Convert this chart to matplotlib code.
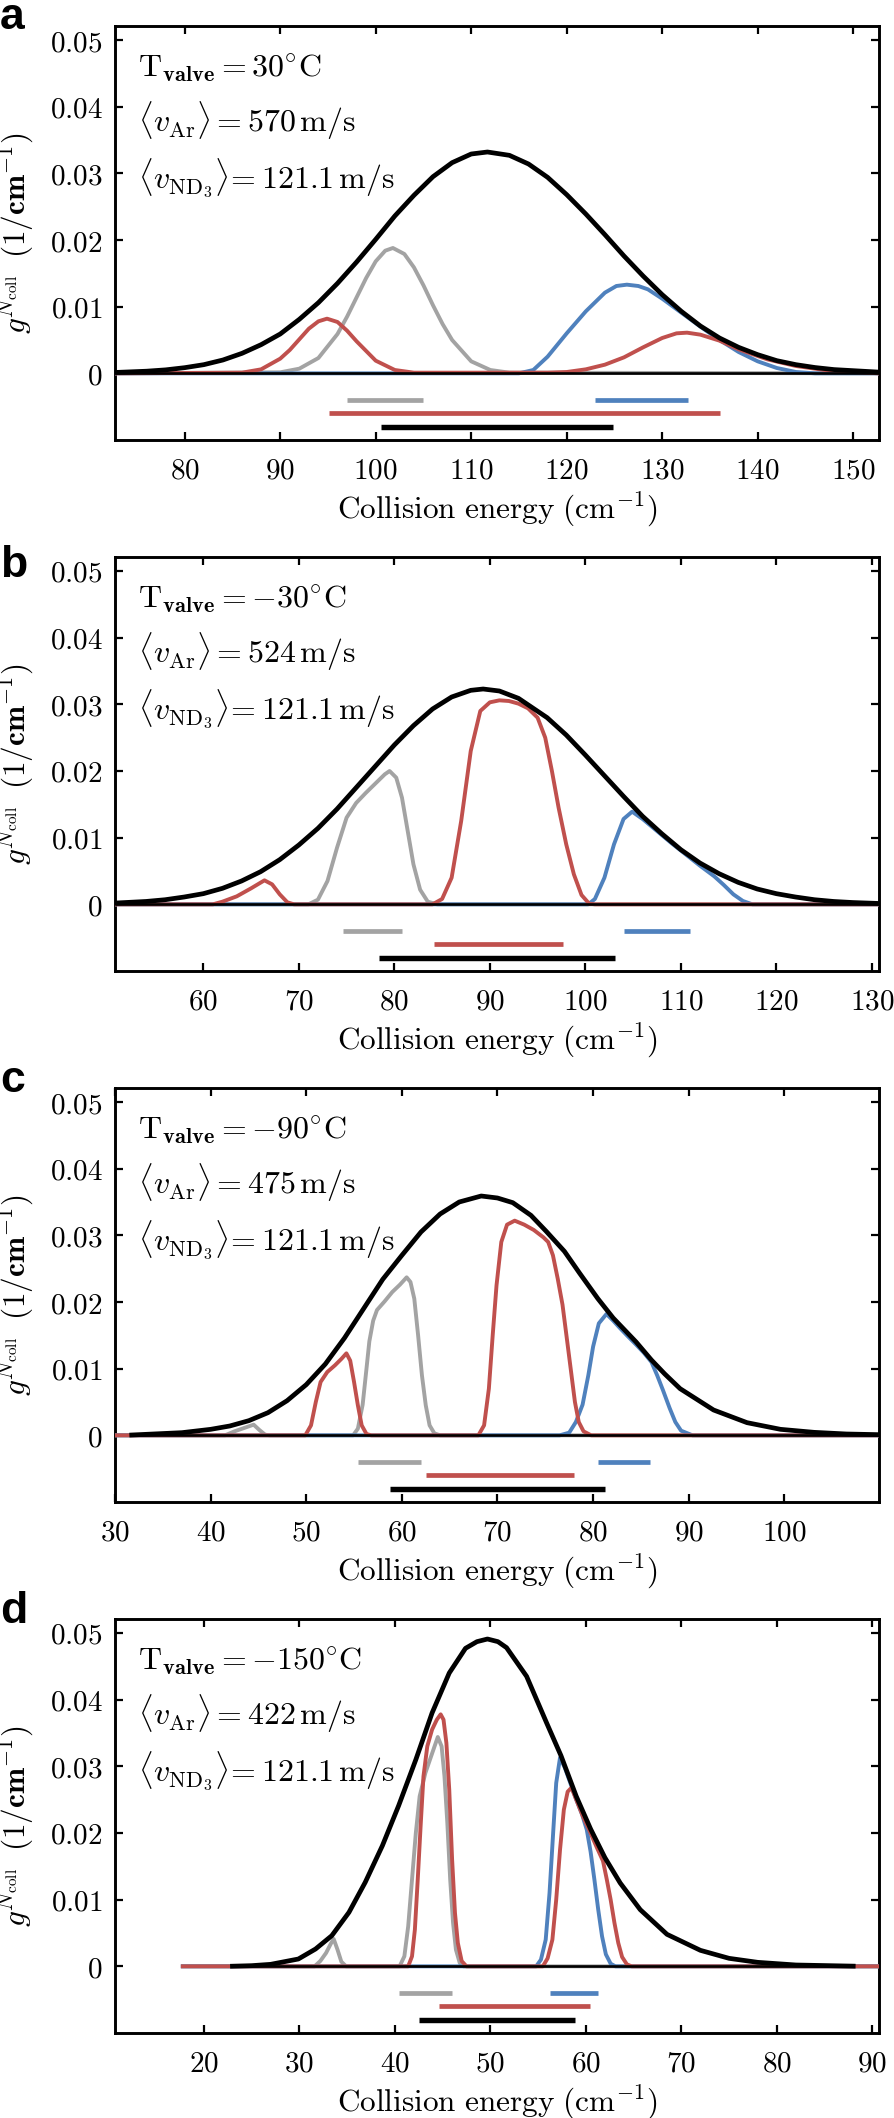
"""Collision-energy distributions g^Ncoll for four valve temperatures (panels a-d)."""

import matplotlib
matplotlib.use("Agg")
import matplotlib.pyplot as plt
from matplotlib.ticker import FixedLocator, FuncFormatter

# ---- panel settings --------------------------------------------------------
LETTERS = ["a", "b", "c", "d"]
T_VALVE = [30, -30, -90, -150]
V_AR = [570, 524, 475, 422]
V_ND3 = 121.1
XLIMS = [(72.7, 152.7), (50.75, 130.75), (30.0, 109.9), (10.7, 90.7)]
XTICKS = [
    [80, 90, 100, 110, 120, 130, 140, 150],
    [60, 70, 80, 90, 100, 110, 120, 130],
    [30, 40, 50, 60, 70, 80, 90, 100],
    [20, 30, 40, 50, 60, 70, 80, 90],
]
YTICKS = [0, 0.01, 0.02, 0.03, 0.04, 0.05]

# ---- panel a (30 C) ---------------------------------------------------------
a_black_e = [72.7, 76, 78, 80, 82, 84, 86, 88, 90, 92, 94, 96, 98, 100, 102, 104, 106,
             108, 110, 111.7, 114, 116, 118, 120, 122, 124, 126, 128, 130, 132, 134,
             136, 138, 140, 142, 144, 146, 148, 152.7]
a_black_g = [0.00013, 0.00032, 0.00052, 0.00085, 0.0013, 0.0020, 0.0030, 0.0043, 0.0059,
             0.0081, 0.0106, 0.0135, 0.0167, 0.0201, 0.0236, 0.0267, 0.0295, 0.0316,
             0.0329, 0.0332, 0.0327, 0.0314, 0.0294, 0.0268, 0.0239, 0.0208, 0.0176,
             0.0146, 0.0118, 0.0093, 0.0071, 0.0053, 0.0039, 0.0028, 0.0019, 0.0013,
             0.00087, 0.00056, 0.00018]
a_gray_e = [72.7, 90, 92, 94, 96, 97, 98, 99, 100, 101, 101.8, 103, 104, 105, 106, 107,
            108, 110, 112, 114, 152.7]
a_gray_g = [0, 0.00015, 0.0007, 0.0023, 0.0059, 0.0085, 0.0114, 0.0143, 0.0168, 0.0184,
            0.0188, 0.0179, 0.0159, 0.0132, 0.0102, 0.0074, 0.0050, 0.0018, 0.0005,
            0.0001, 0]
a_red_e = [72.7, 86, 88, 90, 91, 92, 93, 94, 94.9, 96, 97, 98, 100, 102, 104,
           118, 120, 122, 124, 126, 128, 130, 131.5, 132.6, 134, 136, 138, 141, 144,
           147, 150, 152.7]
a_red_g = [0, 0.0001, 0.0006, 0.0022, 0.0035, 0.0051, 0.0067, 0.0078, 0.0082, 0.0077,
           0.0064, 0.0048, 0.0019, 0.0005, 0.0001,
           0.0001, 0.0002, 0.0006, 0.0013, 0.0024, 0.0039, 0.0053, 0.0060, 0.0061,
           0.0058, 0.0049, 0.0036, 0.0021, 0.0011, 0.0005, 0.0002, 0]
a_blue_e = [72.7, 115, 116.5, 118, 120, 122, 124, 125.2, 126.3, 127.5, 128.5, 130, 132,
            134, 136, 138, 140, 142, 144, 146, 152.7]
a_blue_g = [0, 0, 0.0005, 0.0025, 0.0060, 0.0093, 0.0121, 0.0131, 0.0133, 0.0131, 0.0126,
            0.0112, 0.0091, 0.0070, 0.0050, 0.0032, 0.0018, 0.0008, 0.0002, 0, 0]
# energy-range bars: gray, blue, red, black
a_bar_lo = [97.0, 123.0, 95.1, 100.6]
a_bar_hi = [104.9, 132.7, 136.0, 124.8]

# ---- panel b (-30 C) --------------------------------------------------------
b_black_e = [50.75, 54, 56, 58, 60, 62, 64, 66, 68, 70, 72, 74, 76, 78, 80, 82, 84, 86,
             88, 89.3, 91, 93, 96, 98, 100, 102, 104, 106, 108, 110, 112, 114, 116, 118,
             120, 122, 124, 126, 128, 130.75]
b_black_g = [0.00019, 0.00043, 0.00069, 0.0011, 0.0016, 0.0024, 0.0035, 0.0049, 0.0067,
             0.0089, 0.0114, 0.0143, 0.0175, 0.0207, 0.0239, 0.0268, 0.0293, 0.0311,
             0.0321, 0.0323, 0.0320, 0.0309, 0.0280, 0.0254, 0.0224, 0.0193, 0.0162,
             0.0132, 0.0106, 0.0082, 0.0062, 0.0046, 0.0033, 0.0023, 0.0016, 0.0011,
             0.00069, 0.00043, 0.00027, 0.00013]
b_gray_e = [50.75, 71.0, 72.0, 73.0, 74.0, 75.0, 76.0, 77.0, 78.0, 79.0, 79.5, 80.2,
            80.8, 81.4, 82.0, 82.7, 83.5, 84.5, 130.75]
b_gray_g = [0, 0, 0.0007, 0.0035, 0.0085, 0.0130, 0.0152, 0.0167, 0.0181, 0.0195, 0.0200,
            0.0190, 0.0160, 0.0110, 0.0060, 0.0022, 0.0004, 0, 0]
b_red_e = [50.75, 61.0, 62.0, 63.5, 65.0, 66.4, 67.2, 68.0, 68.8, 69.5,
           84.0, 85.0, 86.0, 87.0, 88.0, 89.0, 90.0, 91.0, 92.0, 93.0, 94.0, 95.0, 95.8,
           96.5, 97.2, 98.0, 98.8, 99.6, 100.4, 101.0, 130.75]
b_red_g = [0, 0, 0.0004, 0.0012, 0.0024, 0.0036, 0.0030, 0.0015, 0.0003, 0,
           0, 0.0008, 0.0040, 0.0125, 0.0230, 0.0290, 0.0303, 0.0306, 0.0305, 0.0301,
           0.0294, 0.0280, 0.0250, 0.0200, 0.0145, 0.0090, 0.0045, 0.0014, 0.0001, 0, 0]
b_blue_e = [50.75, 100.3, 101.0, 102.0, 103.0, 104.0, 104.9, 106.0, 107.5, 109.0, 110.5,
            112.0, 113.5, 114.5, 115.5, 116.5, 117.5, 130.75]
b_blue_g = [0, 0, 0.0008, 0.0040, 0.0090, 0.0128, 0.0139, 0.0128, 0.0110, 0.0092, 0.0075,
            0.0058, 0.0042, 0.0029, 0.0015, 0.0005, 0, 0]
b_bar_lo = [74.6, 104.0, 84.2, 78.4]
b_bar_hi = [80.8, 111.0, 97.7, 103.1]

# ---- panel c (-90 C) --------------------------------------------------------
c_black_e = [31.75, 34, 37, 40, 42, 44, 46, 48, 50, 52, 54, 56, 58, 60, 62, 64, 66,
             68.3, 70, 71.6, 73.5, 75.1, 77, 78.6, 80.5, 82.1, 84.5, 86.1, 87.5, 89.1,
             92.6, 96.1, 99.6, 103.1, 106.5, 109.9]
c_black_g = [0.00005, 0.0002, 0.0004, 0.0009, 0.0014, 0.0022, 0.0034, 0.0052, 0.0076,
             0.0107, 0.0146, 0.0190, 0.0234, 0.0270, 0.0305, 0.0332, 0.0350, 0.0359,
             0.0356, 0.0349, 0.0330, 0.0306, 0.0276, 0.0243, 0.0205, 0.0176, 0.0140,
             0.0113, 0.0092, 0.0070, 0.0038, 0.0019, 0.0009, 0.00045, 0.0002, 0.0001]
c_gray_e = [30.0, 41.5, 42.5, 43.5, 44.5, 45.1, 45.7, 46.2,
            54.9, 55.4, 55.9, 56.3, 56.6, 57.0, 57.4, 58.2, 59.0, 59.8, 60.5, 60.9, 61.3,
            61.7, 62.1, 62.5, 62.9, 63.4, 64.0, 109.9]
c_gray_g = [0, 0, 0.0006, 0.0011, 0.0016, 0.0008, 0.0001, 0,
            0, 0.0010, 0.0046, 0.0100, 0.0141, 0.0172, 0.0188, 0.0201, 0.0215, 0.0226,
            0.0237, 0.0230, 0.0205, 0.0150, 0.0090, 0.0045, 0.0015, 0.0003, 0, 0]
c_red_e = [30.0, 49.9, 50.5, 51.0, 51.5, 52.2, 53.0, 53.7, 54.2, 54.6, 55.0, 55.4, 55.8,
           56.3, 56.8, 68.0, 68.6, 69.1, 69.5, 69.9, 70.4, 71.0, 71.8, 72.8, 73.8, 74.8,
           75.3, 75.8, 76.3, 76.8, 77.3, 77.7, 78.1, 78.5, 79.0, 79.8, 109.9]
c_red_g = [0, 0, 0.0015, 0.0050, 0.0080, 0.0095, 0.0105, 0.0115, 0.0123, 0.0112, 0.0080,
           0.0045, 0.0015, 0.0002, 0, 0, 0.0015, 0.0070, 0.0150, 0.0225, 0.0290, 0.0316,
           0.0322, 0.0316, 0.0308, 0.0297, 0.0290, 0.0270, 0.0235, 0.0196, 0.0140,
           0.0095, 0.0050, 0.0020, 0.0006, 0, 0]
c_blue_e = [30.0, 76.5, 77.5, 78.2, 78.9, 79.5, 80.0, 80.6, 81.4, 82.1, 82.8, 83.6, 84.5,
            85.3, 86.1, 86.7, 87.3, 88.0, 88.6, 89.2, 90.4, 109.9]
c_blue_g = [0, 0, 0.0004, 0.0020, 0.0046, 0.0090, 0.0133, 0.0168, 0.0182, 0.0172, 0.0161,
            0.0149, 0.0136, 0.0124, 0.0110, 0.0090, 0.0068, 0.0041, 0.0020, 0.0007, 0, 0]
c_bar_lo = [55.4, 80.5, 62.5, 58.8]
c_bar_hi = [62.0, 86.0, 78.0, 81.2]

# ---- panel d (-150 C) -------------------------------------------------------
d_black_e = [23.0, 25, 27, 29.9, 31.7, 33.4, 35.2, 36.9, 38.7, 40.4, 42.2, 43.9, 45.7,
             47.4, 48.6, 49.7, 50.8, 51.7, 53.8, 55.9, 57.4, 59.0, 60.5, 62.0, 63.6,
             65.7, 68.5, 72.0, 75.0, 78.0, 82.0, 88.0]
d_black_g = [0.00002, 0.0001, 0.0003, 0.0011, 0.0026, 0.0046, 0.0081, 0.0126, 0.0181,
             0.0241, 0.0310, 0.0380, 0.0440, 0.0477, 0.0487, 0.0491, 0.0487, 0.0478,
             0.0435, 0.0365, 0.0316, 0.0255, 0.0206, 0.0163, 0.0125, 0.0085, 0.0048,
             0.0024, 0.0012, 0.0006, 0.0002, 0.00003]
d_gray_e = [17.8, 31.6, 32.2, 32.8, 33.3, 33.6, 34.0, 34.4, 34.9,
            40.5, 41.0, 41.4, 41.8, 42.2, 42.6, 43.2, 43.8, 44.5, 44.9, 45.2, 45.5, 45.8,
            46.1, 46.4, 46.8, 47.2, 90.7]
d_gray_g = [0, 0, 0.0008, 0.0020, 0.0034, 0.0041, 0.0025, 0.0007, 0,
            0, 0.0015, 0.0060, 0.0130, 0.0200, 0.0255, 0.0290, 0.0315, 0.0344, 0.0330,
            0.0285, 0.0215, 0.0130, 0.0065, 0.0025, 0.0005, 0, 0]
d_red_e = [17.8, 41.4, 41.8, 42.1, 42.4, 42.7, 43.0, 43.4, 43.9, 44.4, 44.8, 45.1, 45.4,
           45.7, 46.0, 46.3, 46.6, 47.0, 47.5, 55.5, 56.0, 56.5, 56.9, 57.3, 57.7, 58.1,
           58.5, 59.0, 59.7, 60.4, 61.1, 61.8, 62.2, 62.6, 63.0, 63.4, 63.8, 64.3, 64.8,
           90.7]
d_red_g = [0, 0, 0.0015, 0.0055, 0.0130, 0.0210, 0.0285, 0.0330, 0.0355, 0.0370, 0.0378,
           0.0370, 0.0335, 0.0265, 0.0160, 0.0080, 0.0035, 0.0008, 0, 0, 0.0012, 0.0040,
           0.0100, 0.0175, 0.0235, 0.0262, 0.0268, 0.0250, 0.0225, 0.0203, 0.0180,
           0.0158, 0.0130, 0.0100, 0.0065, 0.0035, 0.0014, 0.0003, 0, 0]
d_blue_e = [17.8, 54.8, 55.3, 55.8, 56.2, 56.6, 56.9, 57.3, 57.8, 58.4, 59.0, 59.6, 60.1,
            60.5, 60.9, 61.3, 61.7, 62.1, 62.6, 63.1, 90.7]
d_blue_g = [0, 0, 0.0010, 0.0040, 0.0110, 0.0205, 0.0275, 0.0313, 0.0298, 0.0274, 0.0250,
            0.0228, 0.0205, 0.0172, 0.0130, 0.0085, 0.0045, 0.0018, 0.0004, 0, 0]
d_bar_lo = [40.4, 56.2, 44.6, 42.5]
d_bar_hi = [46.0, 61.3, 60.4, 58.9]

# bar heights below the axis, same order as the bar lists
BAR_LEVEL = [-0.004, -0.004, -0.006, -0.008]

GRAY = "#a3a3a3"
RED = "#c0504d"
BLUE = "#4f81bd"
BAR_COLORS = [GRAY, BLUE, RED, "black"]

PANELS = [
    dict(black=(a_black_e, a_black_g), gray=(a_gray_e, a_gray_g),
         red=(a_red_e, a_red_g), blue=(a_blue_e, a_blue_g), bars=(a_bar_lo, a_bar_hi)),
    dict(black=(b_black_e, b_black_g), gray=(b_gray_e, b_gray_g),
         red=(b_red_e, b_red_g), blue=(b_blue_e, b_blue_g), bars=(b_bar_lo, b_bar_hi)),
    dict(black=(c_black_e, c_black_g), gray=(c_gray_e, c_gray_g),
         red=(c_red_e, c_red_g), blue=(c_blue_e, c_blue_g), bars=(c_bar_lo, c_bar_hi)),
    dict(black=(d_black_e, d_black_g), gray=(d_gray_e, d_gray_g),
         red=(d_red_e, d_red_g), blue=(d_blue_e, d_blue_g), bars=(d_bar_lo, d_bar_hi)),
]

plt.rcParams["mathtext.fontset"] = "cm"
plt.rcParams["axes.linewidth"] = 2.1

W, H = 894.0, 2118.0
AX_LEFT, AX_W, AX_H = 115, 764, 414
AX_TOPS = [26, 557, 1088, 1619]
LETTER_BASE = [29, 577, 1092, 1623]


def _ylab(v, _):
    return r"$0$" if abs(v) < 1e-9 else rf"${v:.2f}$"


def _xlab(v, _):
    return rf"${v:.0f}$"


def main():
    fig = plt.figure(figsize=(W / 100, H / 100), dpi=100)

    for i, p in enumerate(PANELS):
        top = AX_TOPS[i]
        ax = fig.add_axes([AX_LEFT / W, 1 - (top + AX_H) / H, AX_W / W, AX_H / H])

        for key, col in (("gray", GRAY), ("blue", BLUE), ("red", RED)):
            e, g = p[key]
            ax.plot(e, g, color=col, lw=2.8, zorder=3)
        be, bg = p["black"]
        # zero line under the black envelope
        ax.hlines(0, be[0], be[-1], color="black", lw=1.9, zorder=3.5)
        ax.plot(be, bg, color="black", lw=3.4, zorder=4)

        lo, hi = p["bars"]
        for j in range(len(lo)):
            ax.hlines(BAR_LEVEL[j], lo[j], hi[j], color=BAR_COLORS[j],
                      lw=3.9 if j == 3 else 3.4, zorder=3, capstyle="butt")

        ax.set_xlim(*XLIMS[i])
        ax.set_ylim(-0.01, 0.0521)
        ax.xaxis.set_major_locator(FixedLocator(XTICKS[i]))
        ax.yaxis.set_major_locator(FixedLocator(YTICKS))
        ax.xaxis.set_major_formatter(FuncFormatter(_xlab))
        ax.yaxis.set_major_formatter(FuncFormatter(_ylab))
        ax.tick_params(direction="in", top=True, right=True, length=6, width=1.6,
                       labelsize=21)
        ax.tick_params(axis="x", pad=12)
        ax.tick_params(axis="y", pad=9)

        ax.set_xlabel(r"$\mathrm{Collision\ energy\ (cm^{-1})}$", fontsize=22.5)
        ax.xaxis.set_label_coords(0.5, -0.12)
        ax.set_ylabel(r"$g^{N_{\mathrm{coll}}}\;\;\mathbf{(1/cm^{-1})}$", fontsize=22.5)
        ax.yaxis.set_label_coords(-0.105, 0.5)

        t = T_VALVE[i]
        ax.text(0.0305, 0.879, rf"$\mathrm{{T}}_{{\mathbf{{valve}}}} = {t}^{{\circ}}\mathrm{{C}}$",
                transform=ax.transAxes, fontsize=23, va="baseline")
        ax.text(0.0305, 0.745, rf"$\langle v_{{\mathrm{{Ar}}}}\rangle = {V_AR[i]}\,\mathrm{{m/s}}$",
                transform=ax.transAxes, fontsize=23, va="baseline")
        ax.text(0.0305, 0.607,
                rf"$\langle v_{{\mathrm{{ND}}_3}}\rangle\!= {V_ND3}\,\mathrm{{m/s}}$",
                transform=ax.transAxes, fontsize=23, va="baseline")

        fig.text(0.0, 1 - LETTER_BASE[i] / H, LETTERS[i], fontsize=32, fontweight="bold",
                 family="Liberation Sans", ha="left", va="baseline")

    fig.savefig("out.png", dpi=100)
    plt.close(fig)


if __name__ == "__main__":
    main()
